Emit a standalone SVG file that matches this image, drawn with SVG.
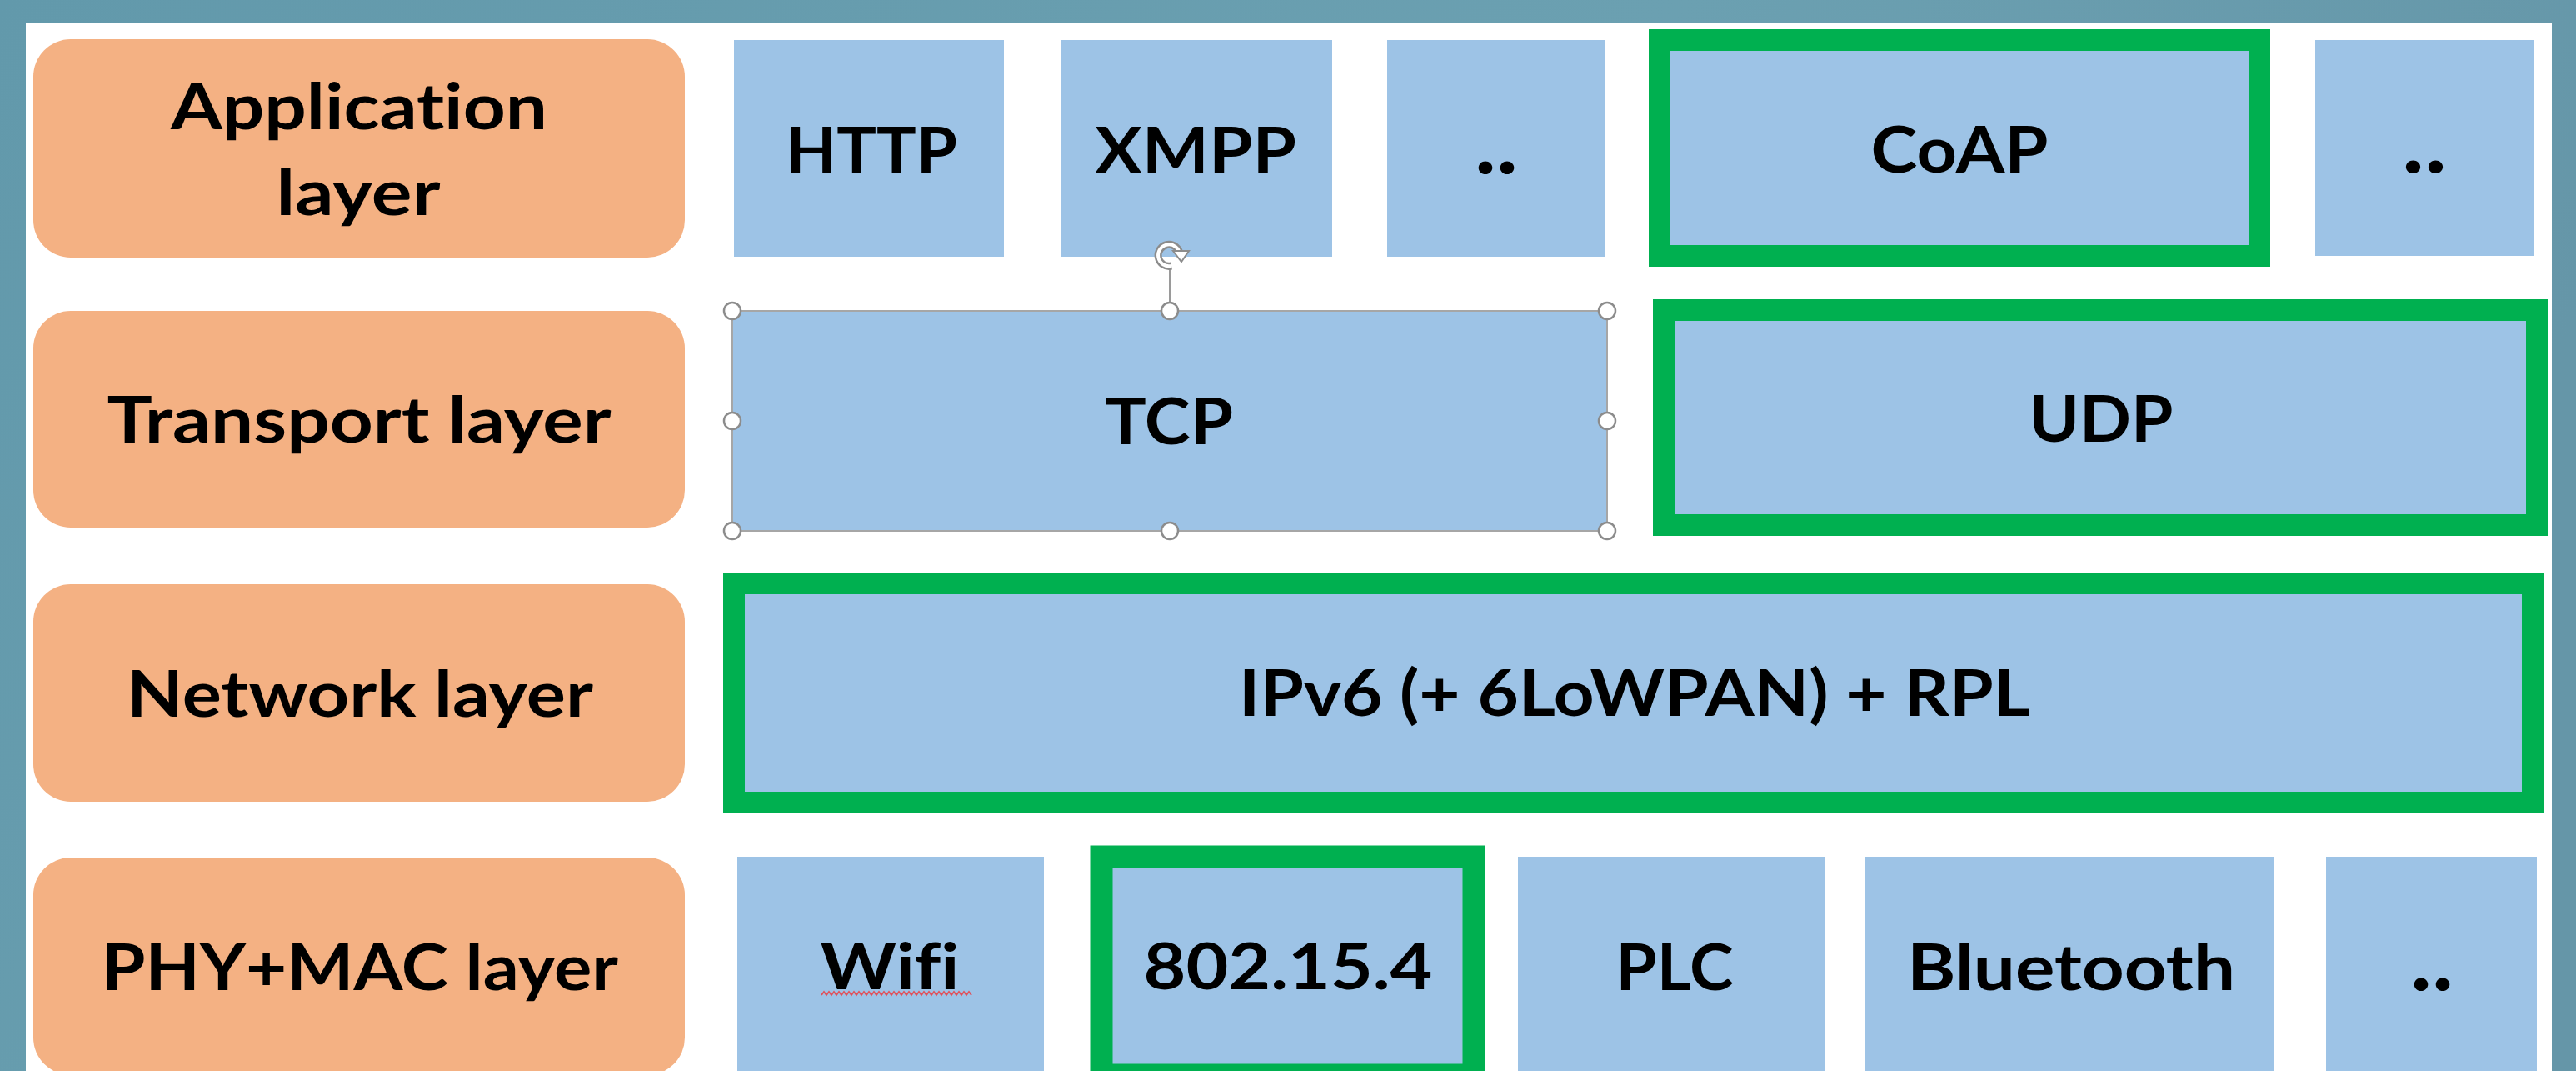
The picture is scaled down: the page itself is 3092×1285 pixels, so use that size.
<svg xmlns="http://www.w3.org/2000/svg" width="3092" height="1285" viewBox="0 0 3092 1285">
<defs>
<linearGradient id="bg" x1="0" y1="0" x2="1" y2="0.3">
<stop offset="0" stop-color="#6299AB"/>
<stop offset="0.6" stop-color="#6BA0B1"/>
<stop offset="1" stop-color="#6596A8"/>
</linearGradient>
</defs>
<style>
.lay{fill:#F4B183}
.blu{fill:#9DC3E6}
.sel{fill:#9DC3E6;stroke:#00B050;stroke-width:26}
.tcp{fill:#9DC3E6;stroke:#A6A6A6;stroke-width:2}
.t{font-family:Lato,"Open Sans","Liberation Sans",sans-serif;font-weight:bold;font-size:76px;fill:#000;text-anchor:middle;font-variant-ligatures:none}
.d{font-size:104px}
.h{fill:#fff;stroke:#8C8C8C;stroke-width:2.5}
</style>
<rect x="0" y="0" width="3092" height="1285" fill="url(#bg)"/>
<rect x="31" y="28" width="3032" height="1257" fill="#FFFFFF"/>

<g id="layer-app"><rect class="lay" x="40" y="47" width="782" height="262" rx="45"/>
<text class="t" x="431" y="155" textLength="452" lengthAdjust="spacingAndGlyphs">Application</text>
<text class="t" x="430" y="258" textLength="197" lengthAdjust="spacingAndGlyphs">layer</text></g>
<g id="layer-transport"><rect class="lay" x="40" y="373" width="782" height="260" rx="45"/>
<text class="t" x="431" y="531" textLength="605" lengthAdjust="spacingAndGlyphs">Transport layer</text></g>
<g id="layer-network"><rect class="lay" x="40" y="701" width="782" height="261" rx="45"/>
<text class="t" x="432" y="860" textLength="560" lengthAdjust="spacingAndGlyphs">Network layer</text></g>
<g id="layer-phy"><rect class="lay" x="40" y="1029" width="782" height="261" rx="45"/>
<text class="t" x="432" y="1188" textLength="620" lengthAdjust="spacingAndGlyphs">PHY+MAC layer</text></g>

<g id="http"><rect class="blu" x="881" y="48" width="324" height="260"/>
<text class="t" x="1046" y="208" textLength="206" lengthAdjust="spacingAndGlyphs">HTTP</text></g>
<g id="xmpp"><rect class="blu" x="1273" y="48" width="326" height="260"/>
<text class="t" x="1435" y="208" textLength="242" lengthAdjust="spacingAndGlyphs">XMPP</text></g>
<g id="app-more1"><rect class="blu" x="1665" y="48" width="261" height="260"/>
<text class="t d" x="1796" y="208" textLength="52" lengthAdjust="spacingAndGlyphs">..</text></g>
<g id="coap"><rect class="sel" x="1992" y="48" width="720" height="259"/>
<text class="t" x="2352" y="207" textLength="213" lengthAdjust="spacingAndGlyphs">CoAP</text></g>
<g id="app-more2"><rect class="blu" x="2779" y="48" width="262" height="259"/>
<text class="t d" x="2910" y="207" textLength="54" lengthAdjust="spacingAndGlyphs">..</text></g>

<g id="tcp"><rect class="tcp" x="879" y="373" width="1050" height="264"/>
<text class="t" x="1403" y="533" textLength="154" lengthAdjust="spacingAndGlyphs">TCP</text>
<line x1="1404" y1="322" x2="1404" y2="363" stroke="#9A9A9A" stroke-width="2"/>
<path d="M1406 319 A13 13 0 1 1 1416 305" fill="none" stroke="#8C8C8C" stroke-width="9"/>
<path d="M1406 319 A13 13 0 1 1 1416 305" fill="none" stroke="#FFFFFF" stroke-width="4"/>
<path d="M1408 301 L1427 301 L1418 314 Z" fill="#FFFFFF" stroke="#8C8C8C" stroke-width="2"/>
<circle class="h" cx="879" cy="373" r="10"/><circle class="h" cx="1404" cy="373" r="10"/><circle class="h" cx="1929" cy="373" r="10"/>
<circle class="h" cx="879" cy="505" r="10"/><circle class="h" cx="1929" cy="505" r="10"/>
<circle class="h" cx="879" cy="637" r="10"/><circle class="h" cx="1404" cy="637" r="10"/><circle class="h" cx="1929" cy="637" r="10"/></g>
<g id="udp"><rect class="sel" x="1997" y="372" width="1048" height="258"/>
<text class="t" x="2522" y="530" textLength="173" lengthAdjust="spacingAndGlyphs">UDP</text></g>

<g id="ipv6"><rect class="sel" x="881" y="700" width="2159" height="263"/>
<text class="t" x="1962" y="859" textLength="950" lengthAdjust="spacingAndGlyphs">IPv6 (+ 6LoWPAN) + RPL</text></g>

<g id="wifi"><rect class="blu" x="885" y="1028" width="368" height="262"/>
<text class="t" x="1068" y="1187" textLength="167" lengthAdjust="spacingAndGlyphs">Wifi</text>
<path d="M986 1194 l3 -4 l3 4 l3 -4 l3 4 l3 -4 l3 4 l3 -4 l3 4 l3 -4 l3 4 l3 -4 l3 4 l3 -4 l3 4 l3 -4 l3 4 l3 -4 l3 4 l3 -4 l3 4 l3 -4 l3 4 l3 -4 l3 4 l3 -4 l3 4 l3 -4 l3 4 l3 -4 l3 4 l3 -4 l3 4 l3 -4 l3 4 l3 -4 l3 4 l3 -4 l3 4 l3 -4 l3 4 l3 -4 l3 4 l3 -4 l3 4 l3 -4 l3 4 l3 -4 l3 4 l3 -4 l3 4 l3 -4 l3 4 l3 -4 l3 4 l3 -4 l3 4 l3 -4 l3 4 l3 -4 l3 4" fill="none" stroke="#E0505A" stroke-width="1.8"/></g>
<g id="ieee802154"><rect class="sel" x="1322" y="1028" width="447" height="262" style="stroke-width:27"/>
<text class="t" x="1546" y="1187" textLength="347" lengthAdjust="spacingAndGlyphs">802.15.4</text></g>
<g id="plc"><rect class="blu" x="1822" y="1028" width="369" height="262"/>
<text class="t" x="2010" y="1188" textLength="141" lengthAdjust="spacingAndGlyphs">PLC</text></g>
<g id="bluetooth"><rect class="blu" x="2239" y="1028" width="491" height="262"/>
<text class="t" x="2486" y="1188" textLength="394" lengthAdjust="spacingAndGlyphs">Bluetooth</text></g>
<g id="phy-more"><rect class="blu" x="2792" y="1028" width="253" height="262"/>
<text class="t d" x="2919" y="1188" textLength="52" lengthAdjust="spacingAndGlyphs">..</text></g>

<g id="connectors"></g>
</svg>
